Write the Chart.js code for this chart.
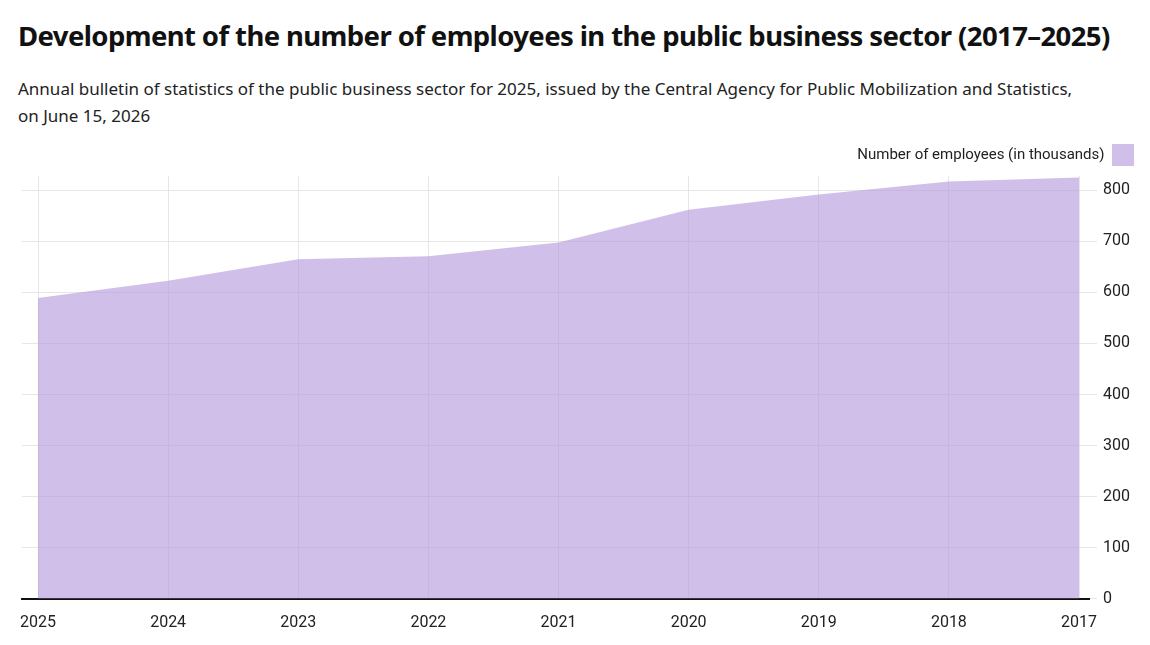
<!DOCTYPE html>
<html>
<head>
<meta charset="utf-8">
<script src="https://cdn.jsdelivr.net/npm/chart.js@4.4.1/dist/chart.umd.min.js"></script>
<style>
  body { margin: 0; background: #fff; width: 1150px; height: 645px; overflow: hidden; position: relative; }
  h1 { position: absolute; left: 18px; top: 17px; margin: 0; font: bold 27.5px "Noto Sans", sans-serif; letter-spacing: -0.6px; color: #111; }
  p { position: absolute; left: 18px; top: 75px; margin: 0; width: 1078px; font: 17px "Noto Sans", sans-serif; line-height: 27px; color: #222; }
  #wrap { position: absolute; left: 0; top: 135px; width: 1150px; height: 514px; }
</style>
</head>
<body>
<h1>Development of the number of employees in the public business sector (2017–2025)</h1>
<p>Annual bulletin of statistics of the public business sector for 2025, issued by the Central Agency for Public Mobilization and Statistics, on June 15, 2026</p>
<div id="wrap"><canvas id="areaChart"></canvas></div>
<script>
// years as shown, left to right
const years = ['2025', '2024', '2023', '2022', '2021', '2020', '2019', '2018', '2017'];
const employees = [589, 623, 665, 671, 698, 762, 792, 817, 825];
const yTicks = [0, 100, 200, 300, 400, 500, 600, 700, 800];

document.addEventListener("DOMContentLoaded", function () {
    const ctx = document.getElementById('areaChart').getContext('2d');
    new Chart(ctx, {
        type: 'line',
        data: {
            datasets: [{
                label: 'Number of employees (in thousands)',
                data: years.map((y, i) => ({ x: i, y: employees[i] })),
                borderWidth: 0,
                borderColor: 'rgba(0,0,0,0)',
                backgroundColor: 'rgba(178, 152, 220, 0.62)',
                fill: 'origin',
                pointRadius: 0,
                tension: 0
            }]
        },
        options: {
            responsive: true,
            maintainAspectRatio: false,
            animation: false,
            layout: { padding: { left: 22, right: 14, top: 7, bottom: 1 } },
            plugins: {
                tooltip: { enabled: false },
                legend: {
                    position: 'top',
                    align: 'start',
                    rtl: true,
                    labels: {
                        boxWidth: 22,
                        boxHeight: 22,
                        padding: 2,
                        color: '#222',
                        font: { family: 'Roboto', size: 15 }
                    }
                }
            },
            scales: {
                x: {
                    type: 'linear',
                    min: -0.123,
                    max: 8.077,
                    afterBuildTicks: axis => {
                        axis.ticks = years.map((y, i) => ({ value: i }));
                    },
                    ticks: {
                        callback: v => years[v],
                        color: '#222',
                        maxRotation: 0,
                        autoSkip: false,
                        padding: 15,
                        font: { family: 'Roboto', size: 16 }
                    },
                    grid: { color: '#e6e6e6', drawTicks: false },
                    border: { color: '#111', width: 2 }
                },
                y: {
                    position: 'right',
                    min: 0,
                    max: 828,
                    afterBuildTicks: axis => {
                        axis.ticks = yTicks.map(v => ({ value: v }));
                    },
                    ticks: {
                        color: '#222',
                        padding: 6,
                        font: { family: 'Roboto', size: 16 }
                    },
                    grid: { color: '#e6e6e6', tickLength: 8 },
                    border: { display: false }
                }
            }
        }
    });
});
</script>
</body>
</html>
